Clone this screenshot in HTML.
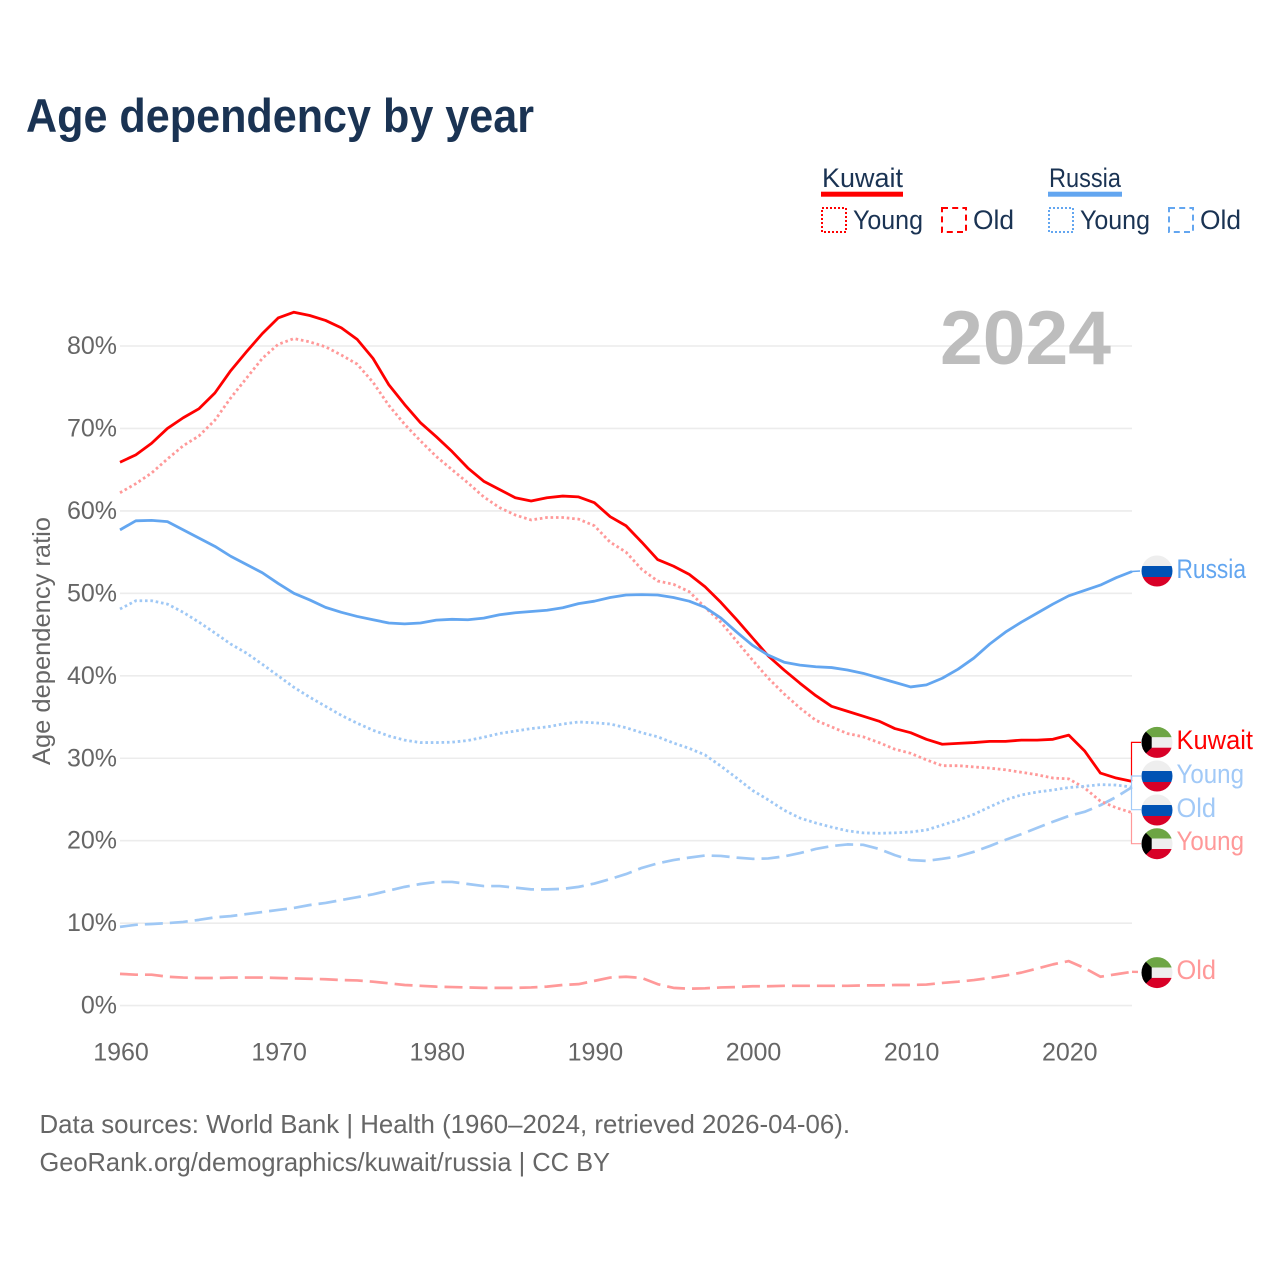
<!DOCTYPE html>
<html lang="en">
<head>
<meta charset="utf-8">
<title>Age dependency by year</title>
<style>
html,body{margin:0;padding:0;background:#fff;}
svg{display:block;font-family:"Liberation Sans",sans-serif;}
</style>
</head>
<body>
<svg id="chart" xmlns="http://www.w3.org/2000/svg" width="1280" height="1280" viewBox="0 0 1280 1280">
  <defs>
    <clipPath id="flag-clip-a"><circle cx="1157" cy="571" r="15.5"/></clipPath>
    <clipPath id="flag-clip-b"><circle cx="1157" cy="742.4" r="15.5"/></clipPath>
    <clipPath id="flag-clip-c"><circle cx="1157" cy="776" r="15.5"/></clipPath>
    <clipPath id="flag-clip-d"><circle cx="1157" cy="810" r="15.5"/></clipPath>
    <clipPath id="flag-clip-e"><circle cx="1157" cy="843.7" r="15.5"/></clipPath>
    <clipPath id="flag-clip-f"><circle cx="1157" cy="972.6" r="15.5"/></clipPath>
  </defs>

  <text x="26" y="132" font-size="47" font-weight="700" fill="#1a3353" textLength="508" lengthAdjust="spacingAndGlyphs">Age dependency by year</text>

  <g font-size="27" fill="#1a3353">
    <text x="822" y="187" textLength="81" lengthAdjust="spacingAndGlyphs">Kuwait</text>
    <rect x="821" y="191.7" width="82" height="5" fill="#ff0000"/>
    <text x="1049" y="187" textLength="72" lengthAdjust="spacingAndGlyphs">Russia</text>
    <rect x="1048" y="191.7" width="74" height="5" fill="#63a6f0"/>

    <rect x="822" y="208" width="24" height="24" fill="none" stroke="#ff0000" stroke-width="2" stroke-dasharray="2 2"/>
    <text x="853" y="229" textLength="70" lengthAdjust="spacingAndGlyphs">Young</text>
    <rect x="942" y="208" width="24" height="24" fill="none" stroke="#ff0000" stroke-width="2" stroke-dasharray="6 4.2"/>
    <text x="973" y="229" textLength="41" lengthAdjust="spacingAndGlyphs">Old</text>

    <rect x="1049" y="208" width="24" height="24" fill="none" stroke="#63a6f0" stroke-width="2" stroke-dasharray="2 2"/>
    <text x="1080" y="229" textLength="70" lengthAdjust="spacingAndGlyphs">Young</text>
    <rect x="1169" y="208" width="24" height="24" fill="none" stroke="#63a6f0" stroke-width="2" stroke-dasharray="6 4.2"/>
    <text x="1200" y="229" textLength="41" lengthAdjust="spacingAndGlyphs">Old</text>
  </g>

  <g id="grid"></g>
  <g id="yticks" font-size="25" fill="#666" text-anchor="end"></g>
  <g id="xticks" font-size="25" fill="#666" text-anchor="middle"></g>

  <text transform="translate(50,765) rotate(-90)" font-size="25" fill="#666" textLength="248" lengthAdjust="spacingAndGlyphs">Age dependency ratio</text>

  <text x="940" y="364" font-size="76" font-weight="700" fill="#bdbdbd" textLength="171" lengthAdjust="spacingAndGlyphs">2024</text>

  <g id="series" fill="none" stroke-linejoin="round"></g>
  <g id="connectors" fill="none" stroke-width="1.2"></g>

  <g clip-path="url(#flag-clip-a)">
    <rect x="1141" y="555" width="32" height="11" fill="#eeeeee"/><rect x="1141" y="566" width="32" height="11" fill="#0052b4"/><rect x="1141" y="577" width="32" height="11" fill="#d80027"/>
  </g>
  <g clip-path="url(#flag-clip-b)">
    <rect x="1141" y="726" width="32" height="11.3" fill="#6da544"/><rect x="1141" y="737.3" width="32" height="10.4" fill="#eeeeee"/><rect x="1141" y="747.7" width="32" height="11" fill="#d80027"/>
    <polygon points="1141,727 1151.7,737.3 1151.7,747.7 1141,758" fill="#000"/>
  </g>
  <g clip-path="url(#flag-clip-c)">
    <rect x="1141" y="760" width="32" height="11" fill="#eeeeee"/><rect x="1141" y="771" width="32" height="11" fill="#0052b4"/><rect x="1141" y="782" width="32" height="11" fill="#d80027"/>
  </g>
  <g clip-path="url(#flag-clip-d)">
    <rect x="1141" y="794" width="32" height="11" fill="#eeeeee"/><rect x="1141" y="805" width="32" height="11" fill="#0052b4"/><rect x="1141" y="816" width="32" height="11" fill="#d80027"/>
  </g>
  <g clip-path="url(#flag-clip-e)">
    <rect x="1141" y="827" width="32" height="11.6" fill="#6da544"/><rect x="1141" y="838.6" width="32" height="10.4" fill="#eeeeee"/><rect x="1141" y="849" width="32" height="11" fill="#d80027"/>
    <polygon points="1141,828 1151.7,838.6 1151.7,849 1141,859.4" fill="#000"/>
  </g>
  <g clip-path="url(#flag-clip-f)">
    <rect x="1141" y="956" width="32" height="11.5" fill="#6da544"/><rect x="1141" y="967.5" width="32" height="10.4" fill="#eeeeee"/><rect x="1141" y="977.9" width="32" height="11" fill="#d80027"/>
    <polygon points="1141,957 1151.7,967.5 1151.7,977.9 1141,988.3" fill="#000"/>
  </g>

  <g font-size="27">
    <text x="1176.5" y="578" fill="#63a6f0" textLength="69.5" lengthAdjust="spacingAndGlyphs">Russia</text>
    <text x="1176.5" y="749" fill="#ff0000" textLength="76.5" lengthAdjust="spacingAndGlyphs">Kuwait</text>
    <text x="1176.5" y="783" fill="#a1c9f7" textLength="67.5" lengthAdjust="spacingAndGlyphs">Young</text>
    <text x="1176.5" y="817" fill="#a1c9f7" textLength="39.5" lengthAdjust="spacingAndGlyphs">Old</text>
    <text x="1176.5" y="850" fill="#ff9999" textLength="67.5" lengthAdjust="spacingAndGlyphs">Young</text>
    <text x="1176.5" y="979" fill="#ff9999" textLength="39.5" lengthAdjust="spacingAndGlyphs">Old</text>
  </g>

  <g font-size="26" fill="#666">
    <text x="39.5" y="1133" textLength="810.5" lengthAdjust="spacingAndGlyphs">Data sources: World Bank | Health (1960–2024, retrieved 2026-04-06).</text>
    <text x="39.5" y="1171" textLength="570.5" lengthAdjust="spacingAndGlyphs">GeoRank.org/demographics/kuwait/russia | CC BY</text>
  </g>
</svg>

<script>
const years = [1960,1961,1962,1963,1964,1965,1966,1967,1968,1969,1970,1971,1972,1973,1974,1975,1976,1977,1978,1979,1980,1981,1982,1983,1984,1985,1986,1987,1988,1989,1990,1991,1992,1993,1994,1995,1996,1997,1998,1999,2000,2001,2002,2003,2004,2005,2006,2007,2008,2009,2010,2011,2012,2013,2014,2015,2016,2017,2018,2019,2020,2021,2022,2023,2024];
const xTickYears = [1960,1970,1980,1990,2000,2010,2020];
const yTickValues = [0,10,20,30,40,50,60,70,80];
const kuwaitTotal = [65.9,66.8,68.2,70,71.3,72.4,74.3,77,79.3,81.5,83.4,84.1,83.7,83.1,82.2,80.8,78.5,75.3,72.9,70.7,69,67.2,65.2,63.6,62.6,61.6,61.2,61.6,61.8,61.7,61,59.3,58.2,56.2,54.1,53.3,52.3,50.8,48.9,46.8,44.6,42.4,40.7,39.1,37.6,36.3,35.7,35.1,34.5,33.6,33.1,32.3,31.7,31.8,31.9,32.05,32.05,32.2,32.2,32.3,32.8,30.9,28.2,27.6,27.2];
const kuwaitYoung = [62.2,63.3,64.6,66.3,67.9,69.1,71,73.7,76.1,78.5,80.2,80.9,80.5,79.9,78.9,77.8,75.6,72.8,70.5,68.5,66.6,65,63.4,61.7,60.4,59.5,58.9,59.2,59.2,59,58.2,56.2,55,52.9,51.5,51.1,50.2,48.3,46.5,44.2,41.9,39.7,37.8,36.1,34.6,33.8,33,32.6,31.9,31.1,30.6,29.8,29.1,29.1,28.95,28.8,28.6,28.3,28,27.6,27.5,26.4,24.8,24,23.4];
const kuwaitOld = [3.85,3.75,3.75,3.5,3.4,3.35,3.35,3.4,3.4,3.4,3.35,3.3,3.25,3.2,3.1,3.05,2.9,2.7,2.5,2.4,2.3,2.25,2.2,2.15,2.15,2.15,2.2,2.3,2.5,2.6,3,3.4,3.5,3.35,2.6,2.15,2.05,2.1,2.2,2.25,2.35,2.35,2.4,2.4,2.4,2.4,2.4,2.45,2.45,2.5,2.5,2.55,2.75,2.9,3.1,3.35,3.65,4,4.5,5,5.4,4.55,3.5,3.8,4.1];
const russiaTotal = [57.7,58.8,58.85,58.7,57.7,56.7,55.7,54.5,53.5,52.5,51.2,50,49.2,48.3,47.7,47.2,46.8,46.4,46.3,46.4,46.75,46.85,46.8,47,47.4,47.65,47.8,47.95,48.25,48.75,49.05,49.5,49.8,49.85,49.8,49.5,49.05,48.3,47,45.3,43.7,42.5,41.65,41.3,41.1,41,40.7,40.3,39.75,39.2,38.65,38.9,39.7,40.8,42.15,43.85,45.3,46.5,47.6,48.7,49.7,50.35,51,51.9,52.65];
const russiaYoung = [48.1,49.1,49.1,48.7,47.7,46.5,45.2,43.85,42.75,41.4,40,38.6,37.4,36.3,35.2,34.25,33.4,32.7,32.2,31.9,31.9,31.95,32.15,32.55,33,33.3,33.6,33.8,34.15,34.4,34.3,34.15,33.7,33.1,32.6,31.85,31.2,30.4,29.05,27.6,26.1,24.95,23.7,22.75,22.15,21.65,21.2,20.95,20.9,20.95,21.05,21.3,21.9,22.5,23.2,24.1,24.95,25.55,25.9,26.15,26.45,26.6,26.8,26.75,26.5];
const russiaOld = [9.55,9.8,9.9,10,10.15,10.4,10.7,10.85,11.1,11.35,11.6,11.85,12.2,12.45,12.8,13.15,13.5,13.95,14.4,14.75,15,15,14.75,14.5,14.5,14.3,14.1,14.1,14.15,14.4,14.8,15.35,15.95,16.7,17.25,17.65,17.95,18.2,18.15,17.95,17.8,17.85,18.1,18.5,19,19.35,19.55,19.5,19,18.25,17.65,17.55,17.8,18.1,18.65,19.35,20.1,20.8,21.55,22.3,23,23.5,24.3,25.3,26.5];

const NS = 'http://www.w3.org/2000/svg';
const plotLeft = 120, plotRight = 1132, plotBottom = 1005.6, plotTop = 346;
function xScale(year) {
  return plotLeft + (year - 1960) * (plotRight - plotLeft) / (2024 - 1960);
}
function yScale(pct) {
  return plotBottom - pct * (plotBottom - plotTop) / 80;
}
function make(tag, attrs, parent) {
  const el = document.createElementNS(NS, tag);
  Object.keys(attrs).forEach(function (k) { el.setAttribute(k, attrs[k]); });
  parent.appendChild(el);
  return el;
}
function linePath(values) {
  return values.map(function (v, i) {
    return (i ? 'L' : 'M') + xScale(years[i]).toFixed(2) + ' ' + yScale(v).toFixed(2);
  }).join('');
}

const gridGroup = document.getElementById('grid');
const yTickGroup = document.getElementById('yticks');
const xTickGroup = document.getElementById('xticks');
const seriesGroup = document.getElementById('series');
const connectorGroup = document.getElementById('connectors');

yTickValues.forEach(function (v) {
  const g = make('line', {x1: plotLeft, x2: plotRight, y1: yScale(v), y2: yScale(v), stroke: '#ececec', 'stroke-width': 1.6}, gridGroup);
  
  
  const t = make('text', {x: 117, y: yScale(v) + 8}, yTickGroup);
  t.textContent = v + '%';
  
  
});

xTickYears.forEach(function (yr) {
  const t = make('text', {x: xScale(yr) + 1, y: 1060.5}, xTickGroup);
  t.textContent = String(yr);
  
  
});

const pathKuwaitOld = make('path', {d: linePath(kuwaitOld), stroke: '#ff9999', 'stroke-width': 2.7, 'stroke-dasharray': '18 7'}, seriesGroup);



const pathRussiaOld = make('path', {d: linePath(russiaOld), stroke: '#9fc8f5', 'stroke-width': 2.7, 'stroke-dasharray': '18 7'}, seriesGroup);



const pathKuwaitYoung = make('path', {d: linePath(kuwaitYoung), stroke: '#ff9999', 'stroke-width': 2.8, 'stroke-dasharray': '2.6 2.8'}, seriesGroup);



const pathRussiaYoung = make('path', {d: linePath(russiaYoung), stroke: '#9fc8f5', 'stroke-width': 2.8, 'stroke-dasharray': '2.6 2.8'}, seriesGroup);



const pathKuwaitTotal = make('path', {d: linePath(kuwaitTotal), stroke: '#ff0000', 'stroke-width': 2.8}, seriesGroup);



const pathRussiaTotal = make('path', {d: linePath(russiaTotal), stroke: '#63a6f0', 'stroke-width': 2.8}, seriesGroup);



function last(a) { return a[a.length - 1]; }

const connRussia = make('path', {d: 'M' + plotRight + ' ' + yScale(last(russiaTotal)) + 'L1140 571', stroke: '#63a6f0', 'stroke-width': 1.6}, connectorGroup);



const connKuwait = make('path', {d: 'M1131.5 ' + yScale(last(kuwaitTotal)) + 'V742.4H1141', stroke: '#ff0000'}, connectorGroup);



const connRussiaYoung = make('path', {d: 'M1131.5 ' + yScale(last(russiaYoung)) + 'V776H1141', stroke: '#a1c9f7'}, connectorGroup);



const connRussiaOld = make('path', {d: 'M1131.5 ' + yScale(last(russiaOld)) + 'V809.7H1141', stroke: '#a1c9f7'}, connectorGroup);



const connKuwaitYoung = make('path', {d: 'M1131.5 ' + yScale(last(kuwaitYoung)) + 'V843.7H1141', stroke: '#ff9999'}, connectorGroup);



const connKuwaitOld = make('path', {d: 'M' + plotRight + ' ' + yScale(last(kuwaitOld)) + 'L1140 972', stroke: '#ff9999', 'stroke-width': 2.4, 'stroke-dasharray': '6 3'}, connectorGroup);


</script>
</body>
</html>
